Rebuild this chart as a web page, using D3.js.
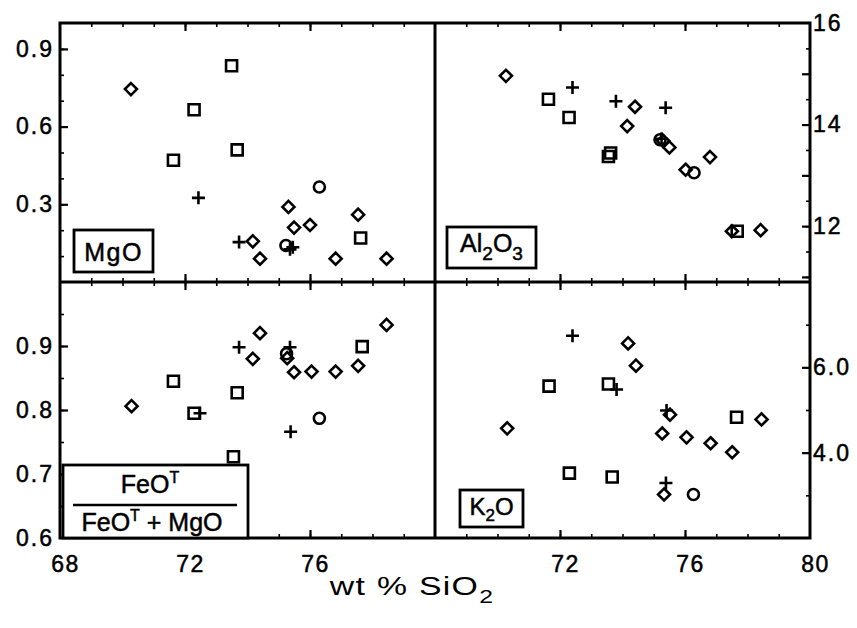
<!DOCTYPE html>
<html>
<head>
<meta charset="utf-8">
<script src="https://cdn.jsdelivr.net/npm/d3@7"></script>
<style>
body { margin: 0; background: #fff; }
text { font-family: "Liberation Sans", Arial, sans-serif; fill: #000; stroke: #000; stroke-width: 0.5px; }
</style>
</head>
<body>
<div id="chart"></div>
<script>
// values: [wt % SiO2, oxide]
const mgoDiamond = [[70.27,0.745],[74.17,0.157],[74.4,0.09],[75.31,0.29],[75.49,0.21],[76.0,0.22],[76.82,0.09],[77.54,0.26],[78.45,0.09]]
const mgoSquare  = [[71.63,0.47],[72.29,0.665],[73.49,0.835],[73.67,0.51],[77.62,0.17]]
const mgoPlus    = [[72.43,0.325],[73.73,0.154],[75.36,0.126],[75.45,0.134]]
const mgoCircle  = [[75.23,0.141],[76.30,0.367]]

const alDiamond = [[70.27,14.96],[74.15,13.97],[74.4,14.35],[75.3,13.68],[75.5,13.55],[76.02,13.11],[76.8,13.36],[77.5,11.9],[78.42,11.92]]
const alSquare  = [[71.63,14.5],[72.29,14.14],[73.55,13.37],[73.62,13.44],[77.67,11.9]]
const alPlus    = [[72.4,14.73],[73.79,14.46],[75.38,14.33],[75.25,13.72]]
const alCircle  = [[75.2,13.7],[76.29,13.05]]

const feDiamond = [[70.29,0.806],[74.17,0.88],[74.4,0.92],[75.27,0.881],[75.49,0.859],[76.05,0.86],[76.82,0.86],[77.54,0.869],[78.45,0.933]]
const feSquare  = [[71.63,0.845],[72.29,0.795],[73.55,0.727],[73.67,0.827],[77.67,0.899]]
const fePlus    = [[72.48,0.795],[73.73,0.898],[75.36,0.898],[75.38,0.766]]
const feCircle  = [[75.25,0.888],[76.30,0.787]]

const kDiamond = [[70.31,4.57],[74.18,6.56],[74.43,6.04],[75.27,4.45],[75.52,4.89],[76.05,4.36],[76.82,4.22],[77.51,4.01],[78.45,4.78],[75.33,3.02]]
const kSquare  = [[71.65,5.56],[72.3,3.52],[73.55,5.61],[73.67,3.43],[77.65,4.83]]
const kPlus    = [[72.4,6.74],[73.81,5.48],[75.41,4.99],[75.39,3.29]]
const kCircle  = [[76.27,3.02]]

const xMajor = [72, 76]
const xLabelsLeft = [68, 72, 76]
const xLabelsRight = [72, 76, 80]
const mgoLabels = [0.3, 0.6, 0.9]
const alLabels = [12, 14, 16]
const feLabels = [0.6, 0.7, 0.8, 0.9]
const kLabels = [4, 6]

const width = 857, height = 628
const pLeft = 60, pMid = 435, pRight = 810
const pTop = 23, pHmid = 282, pBottom = 538

var svg = d3.select("#chart").append("svg")
    .attr("width", width)
    .attr("height", height)

var xL = d3.scaleLinear().domain([68, 80]).range([pLeft, pMid])
var xR = d3.scaleLinear().domain([68, 80]).range([pMid, pRight])
var yMg = d3.scaleLinear().domain([0, 1]).range([pHmid, pTop])
var yAl = d3.scaleLinear().domain([10.9, 16]).range([pHmid, pTop])
var yFe = d3.scaleLinear().domain([0.6, 1.0]).range([pBottom, pHmid])
var yK = d3.scaleLinear().domain([2, 8]).range([pBottom, pHmid])

const intTicks = d3.range(69, 80)

function styleAxis(g, w) {
    g.select(".domain").remove()
    g.selectAll("line").attr("stroke", "#000").attr("stroke-width", w)
}

// x ticks on top, middle and bottom lines of every panel
function xTicks(x, yTop, yBot) {
    [[d3.axisTop, yTop], [d3.axisBottom, yBot]].forEach(function(a) {
        svg.append("g").attr("transform", "translate(0," + a[1] + ")")
            .call(a[0](x).tickValues(intTicks).tickSize(-4).tickFormat(""))
            .call(g => styleAxis(g, 1.6))
        svg.append("g").attr("transform", "translate(0," + a[1] + ")")
            .call(a[0](x).tickValues(xMajor).tickSize(-8).tickFormat(""))
            .call(g => styleAxis(g, 2.2))
    })
}
xTicks(xL, pTop, pHmid)
xTicks(xR, pTop, pHmid)
xTicks(xL, pHmid, pBottom)
xTicks(xR, pHmid, pBottom)

function yTicks(y, side, minor, major, labels, fmt) {
    var ax = side == "left" ? d3.axisLeft : d3.axisRight
    var xp = side == "left" ? pLeft : pRight
    svg.append("g").attr("transform", "translate(" + xp + ",0)")
        .call(ax(y).tickValues(minor).tickSize(-4).tickFormat(""))
        .call(g => styleAxis(g, 1.6))
    svg.append("g").attr("transform", "translate(" + xp + ",0)")
        .call(ax(y).tickValues(major).tickSize(-8).tickFormat(""))
        .call(g => styleAxis(g, 2.2))
    svg.append("g").attr("transform", "translate(" + xp + ",0)")
        .call(ax(y).tickValues(labels).tickSize(0).tickPadding(side == "left" ? 6 : 3).tickFormat(fmt))
        .call(g => g.select(".domain").remove())
        .call(g => g.selectAll("text")
            .attr("font-size", 23)
            .attr("font-family", null)
            .attr("fill", null)
            .style("letter-spacing", "2px"))
}
yTicks(yMg, "left", d3.range(1, 10).map(d => d / 10), mgoLabels, mgoLabels, d3.format(".1f"))
yTicks(yFe, "left", d3.range(13, 20).map(d => d / 20), [0.7, 0.8, 0.9], feLabels, d3.format(".1f"))
yTicks(yAl, "right", d3.range(22, 32).map(d => d / 2), [11, 12, 13, 14, 15], alLabels, d3.format("d"))
yTicks(yK, "right", d3.range(3, 8), kLabels, kLabels, d3.format(".1f"))

// bottom tick labels
function xLabels(x, vals) {
    svg.append("g").attr("transform", "translate(0," + pBottom + ")")
        .call(d3.axisBottom(x).tickValues(vals).tickSize(0).tickPadding(18).tickFormat(d3.format("d")))
        .call(g => g.select(".domain").remove())
        .call(g => g.selectAll("text")
            .attr("font-size", 23)
            .attr("font-family", null)
            .attr("fill", null)
            .attr("dx", 5)
            .style("letter-spacing", "1.5px"))
}
xLabels(xL, xLabelsLeft)
xLabels(xR, xLabelsRight)

// frame
var frame = svg.append("g").attr("stroke", "#000").attr("stroke-width", 3).attr("fill", "none")
frame.append("rect").attr("x", pLeft).attr("y", pTop).attr("width", pRight - pLeft).attr("height", pBottom - pTop)
frame.append("line").attr("x1", pMid).attr("x2", pMid).attr("y1", pTop).attr("y2", pBottom)
frame.append("line").attr("x1", pLeft).attr("x2", pRight).attr("y1", pHmid).attr("y2", pHmid)

// symbols
var circ = d3.path()
circ.arc(0, 0, 5.5, 0, 2 * Math.PI)
const shapes = {
    diamond: "M0,-6L6,0L0,6L-6,0Z",
    square: "M-5.5,-5.5H5.5V5.5H-5.5Z",
    circle: circ.toString() + "Z",
    plus: "M-6.5,0H6.5M0,-6.5V6.5"
}

function plot(pts, shape, x, y) {
    svg.append("g").selectAll("path")
        .data(pts)
        .enter()
        .append("path")
        .attr("d", shapes[shape])
        .attr("transform", d => "translate(" + x(d[0]) + "," + y(d[1]) + ")")
        .attr("fill", "none")
        .attr("stroke", "#000")
        .attr("stroke-width", 2.6)
}
plot(mgoDiamond, "diamond", xL, yMg)
plot(mgoSquare, "square", xL, yMg)
plot(mgoPlus, "plus", xL, yMg)
plot(mgoCircle, "circle", xL, yMg)
plot(alDiamond, "diamond", xR, yAl)
plot(alSquare, "square", xR, yAl)
plot(alPlus, "plus", xR, yAl)
plot(alCircle, "circle", xR, yAl)
plot(feDiamond, "diamond", xL, yFe)
plot(feSquare, "square", xL, yFe)
plot(fePlus, "plus", xL, yFe)
plot(feCircle, "circle", xL, yFe)
plot(kDiamond, "diamond", xR, yK)
plot(kSquare, "square", xR, yK)
plot(kPlus, "plus", xR, yK)
plot(kCircle, "circle", xR, yK)

// label boxes
function box(x, y, w, h) {
    svg.append("rect").attr("x", x).attr("y", y).attr("width", w).attr("height", h)
        .attr("fill", "#fff").attr("stroke", "#000").attr("stroke-width", 2.8)
}
box(74, 230, 79, 42)
svg.append("text").attr("x", 113.5).attr("y", 261).attr("text-anchor", "middle")
    .attr("font-size", 25).style("letter-spacing", "1.5px").text("MgO")

box(447, 227, 89, 41)
var al = svg.append("text").attr("x", 491.5).attr("y", 252).attr("text-anchor", "middle").attr("font-size", 25)
al.append("tspan").text("Al")
al.append("tspan").attr("font-size", 19).attr("dy", 8).text("2")
al.append("tspan").attr("dy", -8).text("O")
al.append("tspan").attr("font-size", 19).attr("dy", 8).text("3")

box(460, 490, 63, 37)
var k2o = svg.append("text").attr("x", 491.5).attr("y", 515).attr("text-anchor", "middle").attr("font-size", 24)
k2o.append("tspan").text("K")
k2o.append("tspan").attr("font-size", 17).attr("dy", 6).text("2")
k2o.append("tspan").attr("dy", -6).text("O")

box(63, 465, 185, 73)
var num = svg.append("text").attr("x", 150).attr("y", 493).attr("text-anchor", "middle").attr("font-size", 25)
num.append("tspan").text("FeO")
num.append("tspan").attr("font-size", 16).attr("dy", -10).text("T")
svg.append("line").attr("x1", 73).attr("x2", 237).attr("y1", 505).attr("y2", 505)
    .attr("stroke", "#000").attr("stroke-width", 2.4)
var den = svg.append("text").attr("x", 152).attr("y", 531).attr("text-anchor", "middle").attr("font-size", 25)
den.append("tspan").text("FeO")
den.append("tspan").attr("font-size", 16).attr("dy", -10).text("T")
den.append("tspan").attr("dy", 10).text("  + MgO")

// axis title, wide lettering like the original
var title = svg.append("text")
    .attr("transform", "translate(412,595) scale(1.3,1)")
    .attr("text-anchor", "middle")
    .attr("font-size", 26).style("letter-spacing", "1px").style("stroke-width", "0px")
title.append("tspan").text("wt % SiO")
title.append("tspan").attr("font-size", 19).attr("dy", 8).text("2")
</script>
</body>
</html>
